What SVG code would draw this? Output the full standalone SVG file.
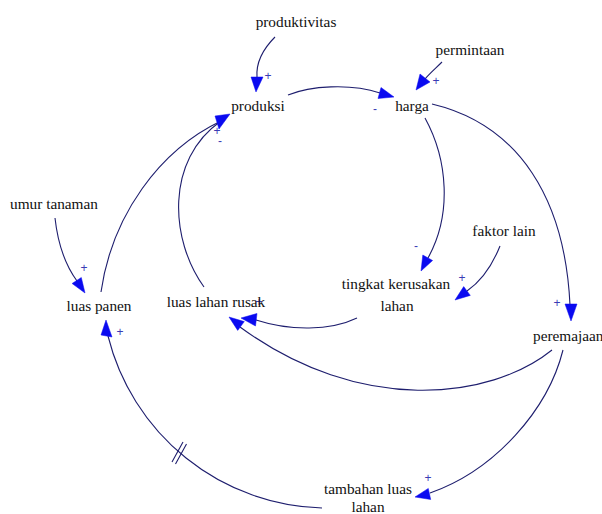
<svg xmlns="http://www.w3.org/2000/svg" width="602" height="514" viewBox="0 0 602 514">
<style>
.lbl{font-family:'Liberation Serif',serif;font-size:15.3px;fill:#111;text-anchor:middle}
.sg{font-family:'Liberation Sans',sans-serif;font-size:12px;fill:#3b3bb5;text-anchor:middle}
.ln{fill:none;stroke:#1e1e6e;stroke-width:1.1}
.ah{fill:#0a0af0;stroke:#0a0af0;stroke-width:0.5}
</style>
<rect width="602" height="514" fill="#fff"/>
<g id="connectors">
  <path class="ln" d="M275,37 C262,50 256,63 257,77"/>
  <polygon class="ah" points="256,92 251,77 263,77"/>
  <path class="ln" d="M442,62 C436,68 430,73 425,79"/>
  <polygon class="ah" points="416,90 420,74 430,82"/>
  <path class="ln" d="M288,95 C310,86 350,83 380,93"/>
  <polygon class="ah" points="394,97 381,87.5 378,98.5"/>
  <path class="ln" d="M432,104 C520,125 565,200 570,305"/>
  <polygon class="ah" points="571,321 565,304 577,304"/>
  <path class="ln" d="M425,118 C448,160 452,215 428,258"/>
  <polygon class="ah" points="421,271 422.8,255 432.6,260.5"/>
  <path class="ln" d="M500,246 C492,266 480,282 467,291"/>
  <polygon class="ah" points="455,300 463.7,286.6 470.3,295.4"/>
  <path class="ln" d="M357,318 C330,331 290,331 256,320"/>
  <polygon class="ah" points="241,318 257,313.5 255.5,326"/>
  <path class="ln" d="M552,350 C490,400 360,415 240,327"/>
  <polygon class="ah" points="229,317 244.3,321.6 237.7,330.4"/>
  <path class="ln" d="M563,350 C548,410 495,470 430,493"/>
  <polygon class="ah" points="415,497 428.3,488.4 430.7,499.5"/>
  <path class="ln" d="M322,508 A227,227 0 0 1 108,336"/>
  <polygon class="ah" points="106,320 101,335 112,337"/>
  <path class="ln" d="M172,462 L183,442 M175.5,464 L186.5,444"/>
  <path class="ln" d="M55,218 C58,245 66,266 77,281"/>
  <polygon class="ah" points="85,293 81.3,277.5 72.1,283.5"/>
  <path class="ln" d="M101,292 C112,215 160,150 221,121"/>
  <path class="ln" d="M204,287 C170,240 165,160 221,121"/>
  <polygon class="ah" points="230,114 215,116 219,129"/>
</g>
<g id="signs">
  <text class="sg" x="268" y="80">+</text>
  <text class="sg" x="436" y="85">+</text>
  <text class="sg" x="375" y="113">-</text>
  <text class="sg" x="416" y="250">-</text>
  <text class="sg" x="462" y="282">+</text>
  <text class="sg" x="557" y="307">+</text>
  <text class="sg" x="428" y="482">+</text>
  <text class="sg" x="120" y="336">+</text>
  <text class="sg" x="84" y="272">+</text>
  <text class="sg" x="217" y="135">+</text>
  <text class="sg" x="220" y="145">-</text>
  <text class="sg" x="259" y="306">+</text>
</g>
<g id="produktivitas"><text class="lbl" font-family="Liberation Serif" x="296" y="27">produktivitas</text></g>
<g id="permintaan"><text class="lbl" font-family="Liberation Serif" x="470" y="55">permintaan</text></g>
<g id="produksi"><text class="lbl" font-family="Liberation Serif" x="258" y="111">produksi</text></g>
<g id="harga"><text class="lbl" font-family="Liberation Serif" x="412" y="111">harga</text></g>
<g id="umur-tanaman"><text class="lbl" font-family="Liberation Serif" x="54" y="209">umur tanaman</text></g>
<g id="luas-panen"><text class="lbl" font-family="Liberation Serif" x="99" y="311">luas panen</text></g>
<g id="luas-lahan-rusak"><text class="lbl" font-family="Liberation Serif" x="216" y="307">luas lahan rusak</text></g>
<g id="tingkat-kerusakan-lahan"><text class="lbl" font-family="Liberation Serif" x="396" y="289">tingkat kerusakan</text><text class="lbl" font-family="Liberation Serif" x="397" y="311">lahan</text></g>
<g id="faktor-lain"><text class="lbl" font-family="Liberation Serif" x="504" y="236">faktor lain</text></g>
<g id="peremajaan"><text class="lbl" font-family="Liberation Serif" x="533" y="341" text-anchor="start" style="text-anchor:start">peremajaan</text></g>
<g id="tambahan-luas-lahan"><text class="lbl" font-family="Liberation Serif" x="368" y="494">tambahan luas</text><text class="lbl" font-family="Liberation Serif" x="368" y="512">lahan</text></g>
</svg>
